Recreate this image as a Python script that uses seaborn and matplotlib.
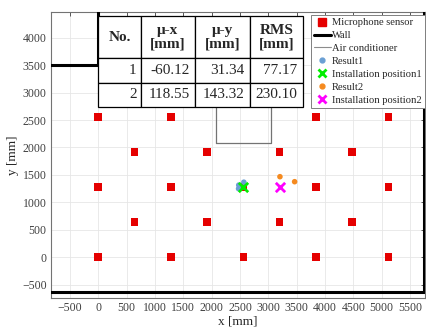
import matplotlib
matplotlib.use('Agg')
import matplotlib.pyplot as plt
from matplotlib.lines import Line2D
import seaborn as sns
import pandas as pd

# microphone sensors (mm); no sensor under the air conditioner
sensor_x = [0, 1280, 2560, 3840, 5120,
            640, 1920, 3200, 4480,
            0, 1280, 2560, 3840, 5120,
            640, 1920, 3200, 4480,
            0, 1280, 3840, 5120,
            640, 1920, 3200, 4480,
            1280, 2560, 3840, 5120]
sensor_y = [0] * 5 + [640] * 4 + [1280] * 5 + [1920] * 4 + [2560] * 4 + [3200] * 4 + [3840] * 4

result1_x = [2478, 2568, 2475]
result1_y = [1315, 1368, 1250]
result2_x = [3205, 3464]
result2_y = [1468, 1377]
install1 = (2560, 1280)
install2 = (3200, 1280)

wall1_x = [-900, 0, 0]
wall1_y = [3500, 3500, 4500]
wall2_x = [-900, 5750, 5750]
wall2_y = [-640, -640, 4500]
ac_x = [2080, 3040, 3040, 2080, 2080]
ac_y = [2080, 2080, 3100, 3100, 2080]

table_cols = ['μ-x\n[mm]', 'μ-y\n[mm]', 'RMS\n[mm]']
table_cols = ['No.'] + table_cols
table_rows = [['1', '-60.12', '31.34', '77.17'],
              ['2', '118.55', '143.32', '230.10']]

sns.set_style('whitegrid')
plt.rcParams['font.family'] = ['Liberation Serif', 'DejaVu Serif']

fig, ax = plt.subplots(figsize=(4.26, 3.29), dpi=100)
fig.subplots_adjust(left=0.119, right=0.9977, top=0.9635, bottom=0.0933)

sensors = pd.DataFrame({'x': sensor_x, 'y': sensor_y})
sns.scatterplot(data=sensors, x='x', y='y', marker='s', s=30, color='#e50000',
                edgecolor='none', ax=ax, zorder=3)
ax.plot(wall1_x, wall1_y, color='black', lw=2.2, zorder=4, solid_capstyle='butt')
ax.plot(wall2_x, wall2_y, color='black', lw=2.2, zorder=4, solid_capstyle='butt')
ax.plot(ac_x, ac_y, color='0.45', lw=0.9, zorder=3)

sns.scatterplot(x=result1_x, y=result1_y, color='#6a9fd4', s=16, edgecolor='none',
                ax=ax, zorder=4)
sns.scatterplot(x=[install1[0]], y=[install1[1]], marker='x', color='#00ee00', s=45,
                linewidth=2, ax=ax, zorder=5)
sns.scatterplot(x=result2_x, y=result2_y, color='#f58a1f', s=16, edgecolor='none',
                ax=ax, zorder=4)
sns.scatterplot(x=[install2[0]], y=[install2[1]], marker='x', color='#ff00ff', s=45,
                linewidth=2, ax=ax, zorder=5)

ax.set_xlim(-840, 5765)
ax.set_ylim(-747, 4468)
ax.set_xticks(range(-500, 5501, 500))
ax.set_yticks(range(-500, 4001, 500))
ax.grid(True, color='#e6e6e6', lw=0.6)
ax.tick_params(direction='in', length=3, width=0.6, colors='0.25', labelsize=8.5,
               top=True, right=True, pad=3)
for sp in ax.spines.values():
    sp.set_color('0.45')
    sp.set_linewidth(0.8)
ax.set_xlabel('x [mm]', fontsize=9.5, color='0.15', labelpad=1)
ax.set_ylabel('y [mm]', fontsize=9.5, color='0.15', labelpad=2)

# result table
tab = ax.table(cellText=table_rows, colLabels=table_cols,
               colWidths=[43, 54, 55, 53], cellLoc='right',
               bbox=[0.126, 0.668, 0.548, 0.318])
tab.auto_set_font_size(False)
tab.set_fontsize(11)
tab.set_zorder(10)
for (r, c), cell in tab.get_celld().items():
    cell.set_facecolor('white')
    cell.set_edgecolor('black')
    cell.set_linewidth(0.9)
    cell.set_height(42 if r == 0 else 24.5)
    if r == 0:
        cell.get_text().set_fontweight('bold')
        cell.get_text().set_ha('center')
        cell._loc = 'center'
    cell.get_text().set_linespacing(1.1)

handles = [
    Line2D([], [], marker='s', color='#e50000', ls='none', markersize=5.5),
    Line2D([], [], color='black', lw=2.2),
    Line2D([], [], color='0.55', lw=0.8),
    Line2D([], [], marker='o', color='#6a9fd4', ls='none', markersize=3.5),
    Line2D([], [], marker='x', color='#00ee00', ls='none', markersize=6, mew=2),
    Line2D([], [], marker='o', color='#f58a1f', ls='none', markersize=3.5),
    Line2D([], [], marker='x', color='#ff00ff', ls='none', markersize=6, mew=2),
]
labels = ['Microphone sensor', 'Wall', 'Air conditioner', 'Result1',
          'Installation position1', 'Result2', 'Installation position2']
leg = ax.legend(handles, labels, loc='upper right', bbox_to_anchor=(0.999, 0.99),
                fontsize=7.6, frameon=True, fancybox=False, edgecolor='0.5',
                framealpha=1, borderpad=0.3, labelspacing=0.33, handlelength=1.6,
                handletextpad=0.1, borderaxespad=0)
leg.get_frame().set_linewidth(0.7)
leg.set_zorder(11)

fig.savefig('out.png', dpi=100)
